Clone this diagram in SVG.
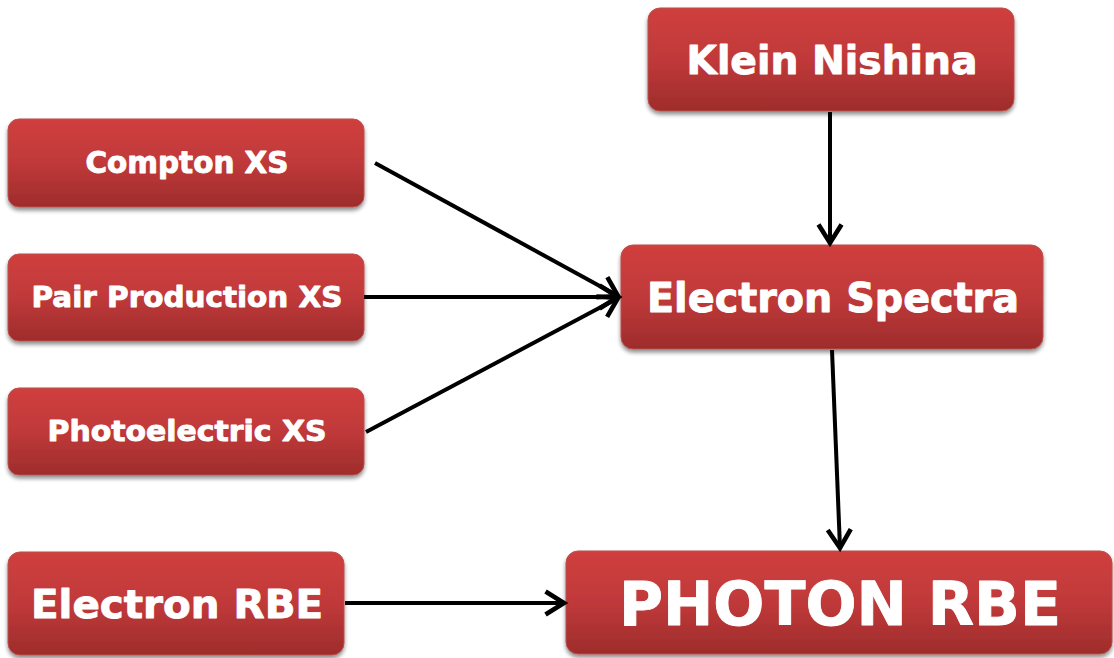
<svg xmlns="http://www.w3.org/2000/svg" width="1114" height="658" viewBox="0 0 1114 658">
<defs>
<linearGradient id="g" x1="0" y1="0" x2="0" y2="1">
<stop offset="0" stop-color="#d03f3d"/>
<stop offset="0.5" stop-color="#c0393a"/>
<stop offset="1" stop-color="#9e2c2b"/>
</linearGradient>
<filter id="sh" x="-5%" y="-10%" width="110%" height="130%">
<feGaussianBlur in="SourceAlpha" stdDeviation="2"/>
<feOffset dx="0" dy="3" result="b"/>
<feComponentTransfer><feFuncA type="linear" slope="0.45"/></feComponentTransfer>
<feMerge><feMergeNode/><feMergeNode in="SourceGraphic"/></feMerge>
</filter>
<marker id="ah" markerUnits="userSpaceOnUse" markerWidth="30" markerHeight="30" viewBox="-22 -12 26 24" refX="0" refY="0" orient="auto">
<path d="M-16,-10 L0,0 L-16,10" fill="none" stroke="#000" stroke-width="4" stroke-linejoin="miter"/>
</marker>
</defs>
<style>
.box{fill:url(#g);stroke:#b8504e;stroke-width:1;filter:url(#sh)}
.t{font-family:"DejaVu Sans",Verdana,sans-serif;font-weight:bold;fill:#fff;stroke:#fff;stroke-width:0.9;stroke-linejoin:round;text-anchor:middle}
.c{stroke:#000;stroke-width:4;fill:none;marker-end:url(#ah)}
</style>
<g id="compton"><rect class="box" x="8" y="119" width="356" height="88" rx="11"/><text class="t" x="187" y="173" font-size="29.5" textLength="203" lengthAdjust="spacingAndGlyphs">Compton XS</text></g>
<g id="pair"><rect class="box" x="8" y="254" width="356" height="87" rx="11"/><text class="t" x="187" y="307" font-size="28.5" textLength="311" lengthAdjust="spacingAndGlyphs">Pair Production XS</text></g>
<g id="photo"><rect class="box" x="8" y="388" width="356" height="87" rx="11"/><text class="t" x="187" y="441" font-size="28.5" textLength="279" lengthAdjust="spacingAndGlyphs">Photoelectric XS</text></g>
<g id="erbe"><rect class="box" x="8" y="552" width="336" height="103" rx="12"/><text class="t" x="177" y="618" font-size="39.5" textLength="292" lengthAdjust="spacingAndGlyphs">Electron RBE</text></g>
<g id="klein"><rect class="box" x="648" y="8" width="366" height="103" rx="12"/><text class="t" x="832" y="74" font-size="39.5" textLength="291" lengthAdjust="spacingAndGlyphs">Klein Nishina</text></g>
<g id="spectra"><rect class="box" x="621" y="245" width="422" height="104" rx="12"/><text class="t" x="833" y="312" font-size="40.5" textLength="372" lengthAdjust="spacingAndGlyphs">Electron Spectra</text></g>
<g id="photon"><rect class="box" x="566" y="551" width="546" height="103" rx="12"/><text class="t" x="840" y="625" font-size="60" textLength="442" lengthAdjust="spacingAndGlyphs">PHOTON RBE</text></g>
<g id="connectors">
<line class="c" x1="375" y1="163" x2="618" y2="296"/>
<line class="c" x1="364" y1="297" x2="618" y2="297"/>
<line class="c" x1="366" y1="432" x2="618" y2="298"/>
<line class="c" x1="830" y1="112" x2="830" y2="243"/>
<line class="c" x1="832" y1="350" x2="840" y2="548"/>
<line class="c" x1="345" y1="603" x2="564" y2="603"/>
</g>
</svg>
